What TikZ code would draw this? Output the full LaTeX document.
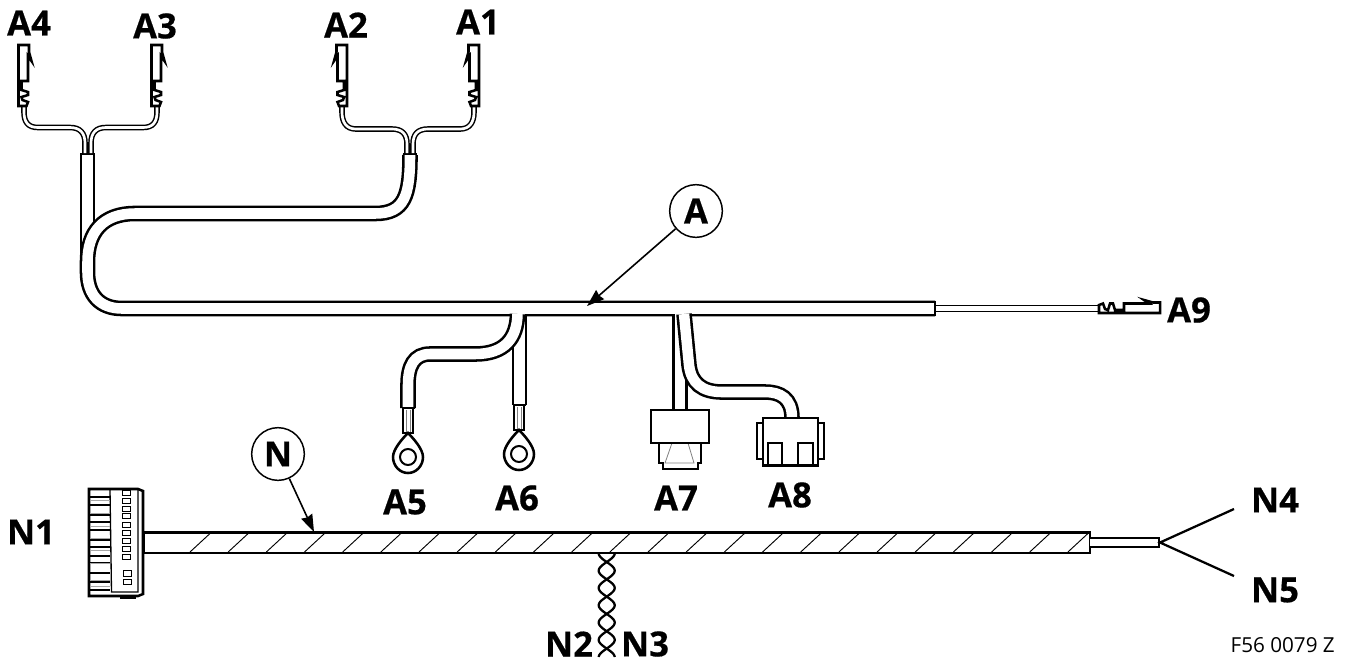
\documentclass[tikz,border=0pt]{standalone}
\usepackage{fontspec}
\setmainfont{Open Sans}
\newfontfamily\tagfont[FakeBold=0.5]{Open Sans Bold}
\usetikzlibrary{arrows.meta}
\tikzset{
  tube/.style={line width=1.9pt, double=white, double distance=7.9pt},
  lead/.style={line width=1.1pt, double=white, double distance=2pt},
  thinlead/.style={line width=1.3pt, double=white, double distance=3.2pt},
  outline/.style={line width=1.9pt, fill=white, line join=miter},
  tag/.style={font=\tagfont\fontsize{26}{26}\selectfont, inner sep=0pt},
  ringname/.style={circle, draw, line width=1.1pt, minimum size=39.5pt, inner sep=0pt, font=\tagfont\fontsize{26}{26}\selectfont},
  leader/.style={line width=1.2pt, -{Stealth[length=13pt, width=9pt, inset=1pt]}},
  terminal/.pic={
    \draw[outline] (-5,-61) -- (5.5,-61) -- (5.5,-54) -- (8,-45) -- (4.5,-50) -- (4.5,-25)
      -- (-2,-25) -- (-2,-16) -- (4.5,-14) -- (4.5,-11) -- (-2,-9) -- (-1,-6) -- (4.5,-4) -- (3,0) -- (-5,0) -- cycle;
  },
  ringlug/.pic={
    \draw[line width=1.3pt, fill=white] (-5,0) rectangle (5,25);
    \draw[gray, line width=0.5pt] (-2,2) -- (-2,24) (2,2) -- (2,24);
    \draw[outline] (0,25) .. controls (-5,30) and (-15,41) .. (-15,49) .. controls (-15,58) and (-8,65) .. (0,65)
      .. controls (8,65) and (15,58) .. (15,49) .. controls (15,41) and (5,30) .. (0,25) -- cycle;
    \draw[line width=1.5pt, fill=white] (0,49) circle (8);
    \draw[line width=2.2pt] (-6.5,0) -- (6.5,0);
  },
}
\begin{document}
\begin{tikzpicture}[x=0.75pt, y=-0.75pt]
  \useasboundingbox (0,0) rectangle (1352,662);

  % Upper harness: trunk with its loop
  \draw[tube] (87.5,155) -- (87.5,258);
  \draw[tube] (410,155) .. controls (410,195) and (405,213.5) .. (375,213.5) -- (135,213.5)
    .. controls (103,213.5) and (87.5,232) .. (87.5,262) -- (87.5,272)
    .. controls (87.5,295) and (100,308.5) .. (122,308.5) -- (935,308.5);
  \draw[line width=1.9pt] (935,301) -- (935,316);
  \draw[line width=2.2pt] (80,154) -- (95,154) (403,154) -- (417,154);

  % Branches below the trunk
  \draw[tube] (519.5,314) -- (519.5,405);
  \draw[tube] (517.5,314) .. controls (517,338) and (505,354) .. (475,354) -- (430,354)
    .. controls (414,354) and (408,366) .. (408,385) -- (408,408);
  \draw[tube] (680,314) -- (680,410);
  \draw[tube] (684,314) -- (689,365) .. controls (691,383) and (702,392) .. (722,392) -- (765,392)
    .. controls (780,392) and (792,398) .. (792,418);

  % Leads and terminals at the top
  \draw[lead] (24,107) -- (24,112) .. controls (24,122) and (28,127.5) .. (38,127.5) -- (70,127.5)
    .. controls (80,127.5) and (85,133) .. (85,143) -- (85,153);
  \draw[lead] (157,107) -- (157,112) .. controls (157,122) and (153,127.5) .. (143,127.5) -- (106,127.5)
    .. controls (96,127.5) and (91,133) .. (91,143) -- (91,153);
  \draw[lead] (342,107) -- (342,112) .. controls (342,122) and (346,129) .. (356,129) -- (392,129)
    .. controls (402,129) and (407,134) .. (407,144) -- (407,153);
  \draw[lead] (474,107) -- (474,112) .. controls (474,122) and (470,129) .. (460,129) -- (428,129)
    .. controls (418,129) and (413,134) .. (413,144) -- (413,153);
  \pic at (23.5,106) {terminal};
  \pic at (156.5,106) {terminal};
  \pic[xscale=-1] at (342,106) {terminal};
  \pic[xscale=-1] at (474,106) {terminal};

  % A9 lead
  \draw[thinlead] (936,308.5) -- (1099,308.5);
  \pic[rotate=-90, xscale=-1] at (1099,308) {terminal};

  % Ring lugs
  \pic at (408,408) {ringlug};
  \pic at (519,405) {ringlug};

  % A7 housing
  \draw[outline] (659,443) -- (659,463) -- (663,463) -- (663,469) -- (698,469) -- (698,463) -- (701,463) -- (701,443) -- cycle;
  \draw[gray, line width=0.6pt] (665,463) -- (672,443) -- (688,443) -- (694,463) -- cycle;
  \draw[outline] (651,410) rectangle (709,443);

  % A8 housing
  \draw[line width=1.6pt, fill=white] (757,423) rectangle (763,459);
  \draw[line width=1.6pt, fill=white] (818,423) rectangle (824,459);
  \draw[outline] (763,418) rectangle (818,465.5);
  \draw[line width=1.4pt] (768,465) -- (768,443) -- (782,443) -- (782,465);
  \draw[line width=1.4pt] (798,465) -- (798,443) -- (813,443) -- (813,465);

  % Lower cable
  \draw[outline] (144,532.5) rectangle (1090,553);
  \foreach \k in {0,...,23} {
    \draw[line width=0.7pt] ({190+38.17*\k},552) -- ({210+38.17*\k},533.5);
  }
  \draw[line width=1.9pt, double=white, double distance=5pt] (1090,542.5) -- (1159,542.5);
  \draw[line width=1.9pt] (1159,537) -- (1159,548);

  % Twisted pair
  \foreach \s in {1,-1} {
    \draw[line width=1.7pt] plot[domain=-9:95, samples=90, smooth] ({606.7+\s*8*sin(\x*10.4)},{562+\x});
  }

  % N1 connector
  \draw[line width=1pt, fill=white] (121,594) rectangle (135,598);
  \draw[outline] (89,489) -- (138,489) -- (143,491) -- (143,594) -- (138,596) -- (89,596) -- cycle;
  \draw[line width=1pt] (110,490) -- (111.5,592) -- (138,592) -- (138,490);
  \foreach \y in {497,505,515,522,530,540,547,556,563,573,582,590} {
    \draw[line width=0.8pt] (90,\y) -- (110,\y);
  }
  \foreach \y in {500,513,526,538,550,563,580,586} {
    \draw[gray!70, line width=1pt] (90,\y+.5) -- (110,\y+.5);
  }
  \foreach \y in {490,498,506,513,522,530,538,546,554} {
    \draw[line width=0.7pt] (122,\y) rectangle (130,\y+5.5);
  }
  \draw[line width=0.7pt] (123,570.5) rectangle (131,576);
  \draw[line width=0.7pt] (123,579) rectangle (131,584.5);

  % Forked ends N4, N5
  \coordinate (fork) at (1160,542.5);
  \coordinate (endN4) at (1234,509);
  \coordinate (endN5) at (1234,576);
  \draw[line width=1.7pt] (endN4) -- (fork) -- (endN5);

  % Call-outs
  \node[ringname] (circA) at (696,211) {A};
  \node[ringname] (circN) at (278,454) {N};
  \coordinate (tipA) at (587,306);
  \coordinate (tipN) at (314,532);
  \draw[leader] (circA) -- (tipA);
  \draw[leader] (circN) -- (tipN);

  % Labels
  \node[tag] (A1) at (478,22) {A1};
  \node[tag] (A2) at (346,25) {A2};
  \node[tag] (A3) at (155,26) {A3};
  \node[tag] (A4) at (29,23) {A4};
  \node[tag] (A5) at (405,502) {A5};
  \node[tag] (A6) at (517,498) {A6};
  \node[tag] (A7) at (676,498) {A7};
  \node[tag] (A8) at (790,495) {A8};
  \node[tag] (A9) at (1189,310) {A9};
  \node[tag] (N1) at (31,532) {N1};
  \node[tag] (N2) at (569,644) {N2};
  \node[tag] (N3) at (645,644) {N3};
  \node[tag] (N4) at (1275,500) {N4};
  \node[tag] (N5) at (1275,590) {N5};
  \node[font=\fontsize{15.5}{15.5}\selectfont, inner sep=0pt, anchor=east] (code) at (1335,645) {F56 0079 Z};
\end{tikzpicture}
\end{document}
